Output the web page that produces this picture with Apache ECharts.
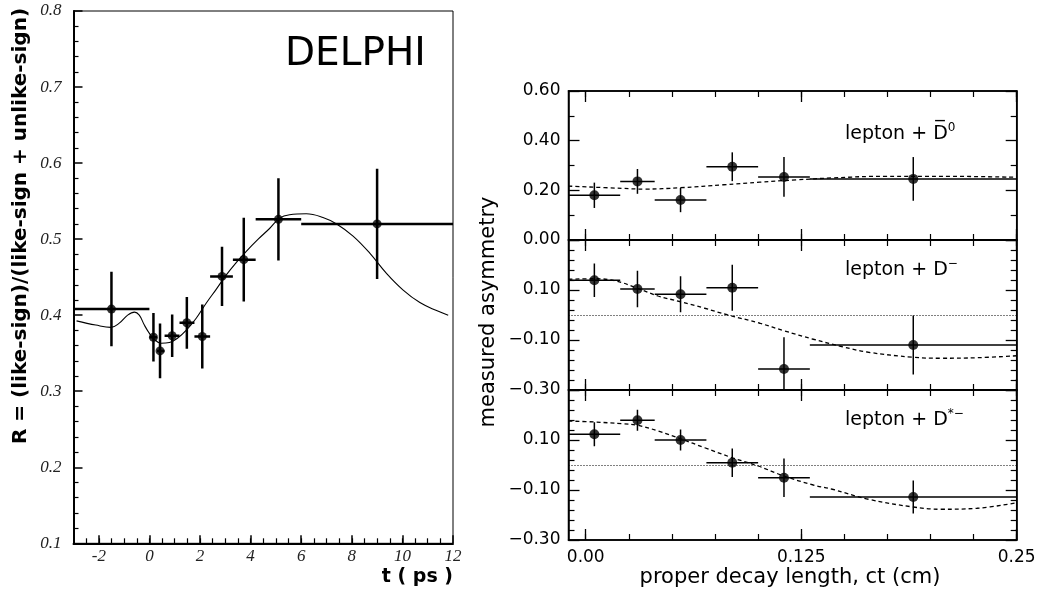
<!DOCTYPE html>
<html><head><meta charset="utf-8">
<script src="https://cdn.jsdelivr.net/npm/echarts@6/dist/echarts.min.js"></script>
<style>html,body{margin:0;padding:0;background:#fff}#c{width:1038px;height:592px}</style>
</head><body><div id="c"></div>
<script>
// ---------- Left panel (DELPHI) data ----------
const leftX    = [-1.5, 0.16, 0.42, 0.9, 1.48, 2.09, 2.87, 3.73, 5.1, 9.0];
const leftY    = [0.408, 0.371, 0.353, 0.373, 0.390, 0.372, 0.451, 0.473, 0.526, 0.520];
const leftYErr = [0.049, 0.032, 0.036, 0.028, 0.034, 0.042, 0.039, 0.055, 0.054, 0.0725];
const leftXLo  = [-3, 0, 0.3, 0.6, 1.19, 1.78, 2.4, 3.3, 4.2, 6.0];
const leftXHi  = [0, 0.3, 0.6, 1.19, 1.78, 2.4, 3.3, 4.2, 6.0, 12];
const leftCurveT = [-2.88, -2.12, -1.52, -1.19, -0.86, -0.59, -0.40, -0.2, 0, 0.2, 0.46, 0.79, 1.12, 1.48, 1.85, 2.25, 2.64, 3.04, 3.43, 3.83, 4.3, 4.75, 5.15, 5.54, 6.2, 6.86, 7.4, 8.05, 8.71, 9.37, 10.03, 10.69, 11.35, 11.81];
const leftCurveR = [0.3925, 0.387, 0.384, 0.3895, 0.400, 0.404, 0.400, 0.387, 0.376, 0.368, 0.363, 0.364, 0.370, 0.381, 0.396, 0.416, 0.434, 0.453, 0.469, 0.484, 0.500, 0.514, 0.5276, 0.532, 0.5333, 0.5285, 0.520, 0.504, 0.4816, 0.455, 0.433, 0.4166, 0.406, 0.400];
const leftXTicks = [-2, 0, 2, 4, 6, 8, 10, 12];
const leftXMinor = [-2.5, -2, -1.5, -1, -0.5, 0, 0.5, 1, 1.5, 2, 2.5, 3, 3.5, 4, 4.5, 5, 5.5, 6, 6.5, 7, 7.5, 8, 8.5, 9, 9.5, 10, 10.5, 11, 11.5];

// ---------- Right panels data ----------
const binCenter = [0.005, 0.030, 0.055, 0.085, 0.115, 0.190];
const binLo     = [-0.01, 0.02, 0.04, 0.07, 0.10, 0.13];
const binHi     = [0.02, 0.04, 0.07, 0.10, 0.13, 0.25];
const asymD0    = [0.180, 0.236, 0.161, 0.295, 0.254, 0.246];
const errD0     = [0.051, 0.050, 0.049, 0.058, 0.080, 0.088];
const asymDm    = [0.139, 0.104, 0.083, 0.109, -0.216, -0.120];
const errDm     = [0.067, 0.073, 0.072, 0.092, 0.127, 0.118];
const asymDs    = [0.123, 0.179, 0.100, 0.009, -0.051, -0.128];
const errDs     = [0.048, 0.042, 0.042, 0.057, 0.077, 0.066];
const fitD0X = [-0.01, 0.021, 0.034, 0.055, 0.080, 0.101, 0.122, 0.143, 0.174, 0.206, 0.25];
const fitD0Y = [0.217, 0.208, 0.205, 0.2105, 0.2224, 0.233, 0.242, 0.250, 0.2566, 0.2566, 0.2526];
const fitDmX = [-0.01, 0.005, 0.017, 0.030, 0.042, 0.055, 0.069, 0.082, 0.101, 0.115, 0.132, 0.149, 0.164, 0.190, 0.206, 0.227, 0.25];
const fitDmY = [0.143, 0.145, 0.137, 0.107, 0.076, 0.053, 0.027, 0.001, -0.033, -0.063, -0.097, -0.127, -0.149, -0.169, -0.173, -0.171, -0.163];
const fitDsX = [-0.01, 0.005, 0.021, 0.030, 0.042, 0.055, 0.069, 0.085, 0.100, 0.115, 0.132, 0.143, 0.164, 0.190, 0.206, 0.227, 0.25];
const fitDsY = [0.176, 0.172, 0.165, 0.159, 0.136, 0.105, 0.069, 0.029, -0.004, -0.044, -0.080, -0.097, -0.137, -0.168, -0.177, -0.173, -0.151];
const rightXTicks  = [0, 0.125, 0.25];
const rightXLabels = ['0.00', '0.125', '0.25'];
const rightXMinor  = [0, 0.025, 0.05, 0.075, 0.1, 0.125, 0.15, 0.175, 0.2, 0.225, 0.25];
const panelNames = ['{a|lepton + D\u0305}{s|0}', '{a|lepton + D}{s|\u2212}', '{a|lepton + D}{s|*\u2212}'];

const SANS = 'DejaVu Sans';
const chart = echarts.init(document.getElementById('c'), null, {renderer: 'canvas'});

function errRender(lw) {
  return function (params, api) {
    const x = api.value(0), y = api.value(1), xlo = api.value(2), xhi = api.value(3), ye = api.value(4);
    const l = api.coord([xlo, y]), r = api.coord([xhi, y]);
    const t = api.coord([x, y + ye]), b = api.coord([x, y - ye]);
    const style = {stroke: '#000', lineWidth: lw};
    return {type: 'group', children: [
      {type: 'line', shape: {x1: l[0], y1: l[1], x2: r[0], y2: r[1]}, style: style},
      {type: 'line', shape: {x1: t[0], y1: t[1], x2: b[0], y2: b[1]}, style: style}
    ]};
  };
}
function zip(a, b) { return a.map((v, i) => [v, b[i]]); }
function fmtR(v) {
  const a = Math.abs(v) < 1e-9 ? 0 : v;
  return (a < 0 ? '\u2212' : '') + Math.abs(a).toFixed(2);
}

const grids = [
  {left: 73.5, top: 11, width: 379.5, height: 532.3},
  {left: 568.5, top: 91, width: 448.2, height: 149},
  {left: 568.5, top: 240, width: 448.2, height: 150},
  {left: 568.5, top: 390, width: 448.2, height: 150}
].map(g => Object.assign({show: true, borderColor: '#000', borderWidth: 1.5, backgroundColor: 'transparent', containLabel: false, outerBoundsMode: 'none'}, g));
grids[0].borderWidth = 1;

const xAxis = [];
const yAxis = [];
// left panel axes
xAxis.push({gridIndex: 0, type: 'value', min: -3, max: 12, position: 'bottom',
  axisLine: {show: true, onZero: false, lineStyle: {color: '#000', width: 2}},
  axisTick: {show: true, inside: true, length: 8, customValues: leftXTicks, lineStyle: {color: '#000', width: 1.5}},
  axisLabel: {show: true, customValues: leftXTicks, formatter: v => String(v), margin: 5,
    fontFamily: 'Liberation Serif', fontStyle: 'italic', fontSize: 17, color: '#222'},
  splitLine: {show: false}});
xAxis.push({gridIndex: 0, type: 'value', min: -3, max: 12, position: 'bottom',
  axisLine: {show: false, onZero: false},
  axisTick: {show: true, inside: true, length: 5, customValues: leftXMinor, lineStyle: {color: '#000', width: 1.2}},
  axisLabel: {show: false}, splitLine: {show: false}});
yAxis.push({gridIndex: 0, type: 'value', min: 0.1, max: 0.8, interval: 0.1, position: 'left',
  axisLine: {show: true, onZero: false, lineStyle: {color: '#000', width: 2}},
  axisTick: {show: true, inside: true, length: 9, lineStyle: {color: '#000', width: 1.5}},
  minorTick: {show: true, splitNumber: 5, length: 5, lineStyle: {color: '#000', width: 1.2}},
  axisLabel: {formatter: v => v.toFixed(1), margin: 12, fontFamily: 'Liberation Serif', fontStyle: 'italic', fontSize: 17, color: '#222'},
  splitLine: {show: false}});

// right panels axes
const yRanges = [{min: 0, max: 0.6, minor: 2}, {min: -0.3, max: 0.3, minor: 5}, {min: -0.3, max: 0.3, minor: 5}];
for (let p = 0; p < 3; p++) {
  const g = p + 1;
  const isBottom = p === 2;
  const base = {gridIndex: g, type: 'value', min: -0.01, max: 0.25, splitLine: {show: false}};
  xAxis.push(Object.assign({}, base, {position: 'bottom',
    axisLine: {show: true, onZero: false, lineStyle: {color: '#000', width: 1.5}},
    axisTick: {show: true, inside: true, length: 11, customValues: rightXTicks, lineStyle: {color: '#000', width: 1.3}},
    axisLabel: {show: isBottom, customValues: rightXTicks, formatter: v => rightXLabels[rightXTicks.indexOf(v)] ?? '',
      margin: 9, fontFamily: SANS, fontSize: 17, color: '#000'}}));
  xAxis.push(Object.assign({}, base, {position: 'bottom', axisLine: {show: false, onZero: false},
    axisTick: {show: true, inside: true, length: 6, customValues: rightXMinor, lineStyle: {color: '#000', width: 1.2}},
    axisLabel: {show: false}}));
  xAxis.push(Object.assign({}, base, {position: 'top', axisLine: {show: true, onZero: false, lineStyle: {color: '#000', width: 1.5}},
    axisTick: {show: true, inside: true, length: 11, customValues: rightXTicks, lineStyle: {color: '#000', width: 1.3}},
    axisLabel: {show: false}}));
  xAxis.push(Object.assign({}, base, {position: 'top', axisLine: {show: false, onZero: false},
    axisTick: {show: true, inside: true, length: 6, customValues: rightXMinor, lineStyle: {color: '#000', width: 1.2}},
    axisLabel: {show: false}}));
  const r = yRanges[p];
  const ybase = {gridIndex: g, type: 'value', min: r.min, max: r.max, interval: 0.2, splitLine: {show: false},
    axisLine: {show: true, onZero: false, lineStyle: {color: '#000', width: 1.5}},
    axisTick: {show: true, inside: true, length: 11, lineStyle: {color: '#000', width: 1.3}},
    minorTick: {show: true, splitNumber: r.minor, length: 6, lineStyle: {color: '#000', width: 1.2}}};
  yAxis.push(Object.assign({}, ybase, {position: 'left',
    axisLabel: {show: true, formatter: fmtR, margin: 8, fontFamily: SANS, fontSize: 17, color: '#000',
      showMaxLabel: p === 0, showMinLabel: true}}));
  yAxis.push(Object.assign({}, ybase, {position: 'right', axisLabel: {show: false}}));
}

const series = [];
series.push({type: 'custom', xAxisIndex: 0, yAxisIndex: 0, clip: true, renderItem: errRender(2.5),
  encode: {x: 0, y: 1},
  data: leftX.map((x, i) => [x, leftY[i], leftXLo[i], leftXHi[i], leftYErr[i]]), z: 3});
series.push({type: 'scatter', xAxisIndex: 0, yAxisIndex: 0, symbol: 'circle', symbolSize: 9,
  itemStyle: {color: '#000'}, data: zip(leftX, leftY), z: 4});
series.push({type: 'line', xAxisIndex: 0, yAxisIndex: 0, smooth: 0.4, showSymbol: false, symbol: 'none',
  lineStyle: {color: '#000', width: 1.1}, data: zip(leftCurveT, leftCurveR), z: 2});

const pY = [asymD0, asymDm, asymDs];
const pE = [errD0, errDm, errDs];
const fX = [fitD0X, fitDmX, fitDsX];
const fY = [fitD0Y, fitDmY, fitDsY];
for (let p = 0; p < 3; p++) {
  const xi = 2 + 4 * p, yi = 1 + 2 * p;
  series.push({type: 'custom', xAxisIndex: xi, yAxisIndex: yi, clip: true, renderItem: errRender(1.5),
    encode: {x: 0, y: 1},
    data: binCenter.map((x, i) => [x, pY[p][i], binLo[i], binHi[i], pE[p][i]]), z: 3});
  series.push({type: 'scatter', xAxisIndex: xi, yAxisIndex: yi, symbol: 'circle', symbolSize: 10,
    itemStyle: {color: '#000'}, data: zip(binCenter, pY[p]), z: 4});
  const ln = {type: 'line', xAxisIndex: xi, yAxisIndex: yi, smooth: 0.4, showSymbol: false, symbol: 'none', clip: true,
    lineStyle: {color: '#000', width: 1.3, type: [4, 3]}, data: zip(fX[p], fY[p]), z: 2};
  if (p > 0) {
    ln.markLine = {silent: true, symbol: 'none', label: {show: false},
      lineStyle: {color: '#000', width: 1, type: [1, 2]}, data: [{yAxis: 0}]};
  }
  series.push(ln);
}

const graphic = [
  {type: 'text', x: 285, y: 55, style: {text: 'DELPHI', fill: '#000', fontSize: 39, fontFamily: SANS, align: 'left', verticalAlign: 'middle'}},
  {type: 'text', x: 21, y: 226, rotation: Math.PI / 2,
    style: {text: 'R = (like-sign)/(like-sign + unlike-sign)', fill: '#000', fontSize: 20, fontWeight: 'bold', fontFamily: SANS, align: 'center', verticalAlign: 'middle'}},
  {type: 'text', x: 453, y: 577, style: {text: 't ( ps )', fill: '#000', fontSize: 19, fontWeight: 'bold', fontFamily: SANS, align: 'right', verticalAlign: 'middle'}},
  {type: 'text', x: 489, y: 312, rotation: Math.PI / 2,
    style: {text: 'measured asymmetry', fill: '#000', fontSize: 21, fontFamily: SANS, align: 'center', verticalAlign: 'middle'}},
  {type: 'text', x: 790, y: 578, style: {text: 'proper decay length, ct (cm)', fill: '#000', fontSize: 21, fontFamily: SANS, align: 'center', verticalAlign: 'middle'}}
];
const legendY = [134, 270, 420];
for (let p = 0; p < 3; p++) {
  graphic.push({type: 'text', x: 845, y: legendY[p], style: {
    text: panelNames[p], align: 'left', verticalAlign: 'middle', fill: '#000',
    rich: {
      a: {fontSize: 19, fontFamily: SANS, fill: '#000', lineHeight: 24},
      s: {fontSize: 12, fontFamily: SANS, fill: '#000', lineHeight: 12, verticalAlign: 'top'}
    }}});
}

chart.setOption({animation: false, backgroundColor: '#fff', grid: grids, xAxis: xAxis, yAxis: yAxis, series: series, graphic: graphic});
</script></body></html>
